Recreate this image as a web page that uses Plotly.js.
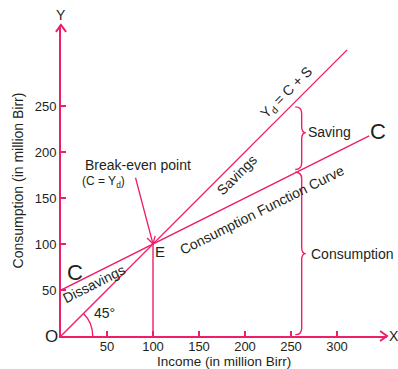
<!DOCTYPE html>
<html>
<head>
<meta charset="utf-8">
<script src="https://cdn.plot.ly/plotly-3.0.1.min.js"></script>
<style>html,body{margin:0;padding:0;background:#fff;}#chart{width:398px;height:369px;}</style>
</head>
<body>
<div id="chart"></div>
<script>
// ---- data ----
var incomeLine45 = [0, 311];          // Yd = C + S (45 degree line)
var valuesLine45 = [0, 311];
var consIncome = [0, 100, 335];       // consumption function C = 50 + 0.5 Y
var consValues = [50, 100, 217.5];
var breakEvenX = [100, 100];
var breakEvenY = [0, 100];
var pointerX = [81, 100];             // arrow from "Break-even point" label to E
var pointerY = [172, 100];
var xTicks = [50, 100, 150, 200, 250, 300];
var yTicks = [50, 100, 150, 200, 250];
var savingBrace = {x: 261.6, top: 249, mid: 221, bottom: 181};
var consumptionBrace = {x: 261.6, top: 178, mid: 89.5, bottom: 1.5};

var XMAX = 354.35, YMAX = 338.04;
var PINK = '#ee1f68';
var INK = '#231f20';
var FONT = 'Liberation Sans, Arial, Helvetica, sans-serif';

function bracePath(b, d, t, r) {
  var xc = b.x;
  return 'M' + (xc - d) + ',' + b.top +
    ' Q' + xc + ',' + b.top + ' ' + xc + ',' + (b.top - r) +
    ' L' + xc + ',' + (b.mid + r) +
    ' Q' + xc + ',' + b.mid + ' ' + (xc + t) + ',' + b.mid +
    ' Q' + xc + ',' + b.mid + ' ' + xc + ',' + (b.mid - r) +
    ' L' + xc + ',' + (b.bottom + r) +
    ' Q' + xc + ',' + b.bottom + ' ' + (xc - d) + ',' + b.bottom;
}
function arcPath(rad, deg) {
  var th = deg * Math.PI / 180, k = 4 / 3 * Math.tan(th / 4);
  var x3 = rad * Math.cos(th), y3 = rad * Math.sin(th);
  return 'M' + rad + ',0 C' + rad + ',' + (k * rad) + ' ' +
    (x3 + k * rad * Math.sin(th)) + ',' + (y3 - k * rad * Math.cos(th)) + ' ' + x3 + ',' + y3;
}
// open chevron arrowhead at tip (tx,ty) pointing along direction from (fx,fy);
// sx, sy convert data units to the output reference (1 for data, 1/max for paper)
function chevron(fx, fy, tx, ty, len, half, sx, sy) {
  sx = sx || 1; sy = sy || 1;
  var dx = tx - fx, dy = ty - fy, L = Math.sqrt(dx * dx + dy * dy);
  var ux = dx / L, uy = dy / L, px = -uy, py = ux;
  var bx = tx - ux * len, by = ty - uy * len;
  return 'M' + (bx + px * half) * sx + ',' + (by + py * half) * sy + ' L' + tx * sx + ',' + ty * sy +
    ' L' + (bx - px * half) * sx + ',' + (by - py * half) * sy;
}

var lineStyle = {color: PINK, width: 1.4};
var traces = [
  {x: incomeLine45, y: valuesLine45, mode: 'lines', line: lineStyle, hoverinfo: 'skip'},
  {x: consIncome, y: consValues, mode: 'lines', line: lineStyle, hoverinfo: 'skip'},
  {x: breakEvenX, y: breakEvenY, mode: 'lines', line: lineStyle, hoverinfo: 'skip'},
  {x: pointerX, y: pointerY, mode: 'lines', line: {color: PINK, width: 1.3}, hoverinfo: 'skip'}
];

function txt(x, y, text, opts) {
  var a = {x: x, y: y, xref: 'x', yref: 'y', text: text, showarrow: false,
    font: {family: FONT, size: 14, color: INK}};
  for (var k in opts) {
    if (k === 'font') { for (var f in opts.font) a.font[f] = opts.font[f]; }
    else a[k] = opts[k];
  }
  return a;
}

var annotations = [
  txt(0, 0, 'O', {xshift: -10, font: {size: 17}}),
  txt(XMAX, 0, 'X', {xshift: 7, font: {size: 14}}),
  txt(0, YMAX, 'Y', {yshift: 10, font: {size: 14}}),
  txt(15, 68.5, 'C', {font: {size: 22}}),
  txt(344.5, 222, 'C', {font: {size: 22}}),
  txt(108, 92, 'E', {font: {size: 15}}),
  txt(83.5, 186, 'Break-even point', {font: {size: 14}}),
  txt(46, 167.5, '(C = Y<sub>d</sub>)', {font: {size: 12}}),
  txt(35.5, 57, 'Dissavings', {textangle: -26.57}),
  txt(47.5, 25.3, '45°', {}),
  txt(191, 175, 'Savings', {textangle: -45}),
  txt(245.5, 264, 'Y<sub>d</sub> = C + S', {textangle: -45}),
  txt(218, 137.3, 'Consumption Function Curve', {textangle: -26.57}),
  txt(292, 221.7, 'Saving', {}),
  txt(317, 89, 'Consumption', {}),
  {x: 0.5, y: -25.5 / 311, xref: 'paper', yref: 'paper', xanchor: 'center', yanchor: 'middle',
   text: 'Income (in million Birr)', showarrow: false, font: {family: FONT, size: 13.5, color: INK}}
];

var thin = {color: PINK, width: 1.4};
var shapes = [
  {type: 'path', xref: 'x', yref: 'y', path: bracePath(savingBrace, 7, 4.5, 7), line: thin},
  {type: 'path', xref: 'x', yref: 'y', path: bracePath(consumptionBrace, 7, 4.5, 7), line: thin},
  {type: 'path', xref: 'x', yref: 'y', path: arcPath(34.5, 45), line: thin},
  {type: 'path', xref: 'paper', yref: 'paper', path: chevron(0, 0, XMAX, 0, 7.5, 5.5, 1 / XMAX, 1 / YMAX), line: {color: PINK, width: 2}},
  {type: 'path', xref: 'paper', yref: 'paper', path: chevron(0, 0, 0, YMAX, 7.5, 5.5, 1 / XMAX, 1 / YMAX), line: {color: PINK, width: 2}},
  {type: 'path', xref: 'x', yref: 'y', path: chevron(pointerX[0], pointerY[0], pointerX[1], pointerY[1], 8, 4.5), line: {color: PINK, width: 1.3}}
];

var layout = {
  width: 398, height: 369,
  margin: {l: 61, r: 11, t: 25, b: 33, pad: 0},
  paper_bgcolor: '#fff', plot_bgcolor: '#fff',
  showlegend: false,
  font: {family: FONT, color: INK},
  xaxis: {
    range: [0, XMAX], showgrid: false, zeroline: false,
    showline: true, linecolor: PINK, linewidth: 2,
    ticks: 'inside', ticklen: 5, tickwidth: 1.3, tickcolor: PINK,
    tickvals: xTicks, tickfont: {family: FONT, size: 13, color: INK},
    ticklabelstandoff: -3,
    fixedrange: true
  },
  yaxis: {
    range: [0, YMAX], showgrid: false, zeroline: false,
    showline: true, linecolor: PINK, linewidth: 2,
    ticks: 'inside', ticklen: 5, tickwidth: 1.3, tickcolor: PINK,
    tickvals: yTicks, tickfont: {family: FONT, size: 13, color: INK},
    title: {text: 'Consumption (in million Birr)', font: {family: FONT, size: 14, color: INK}, standoff: 8},
    fixedrange: true
  },
  annotations: annotations,
  shapes: shapes
};

Plotly.newPlot('chart', traces, layout, {staticPlot: true, displayModeBar: false});
</script>
</body>
</html>
